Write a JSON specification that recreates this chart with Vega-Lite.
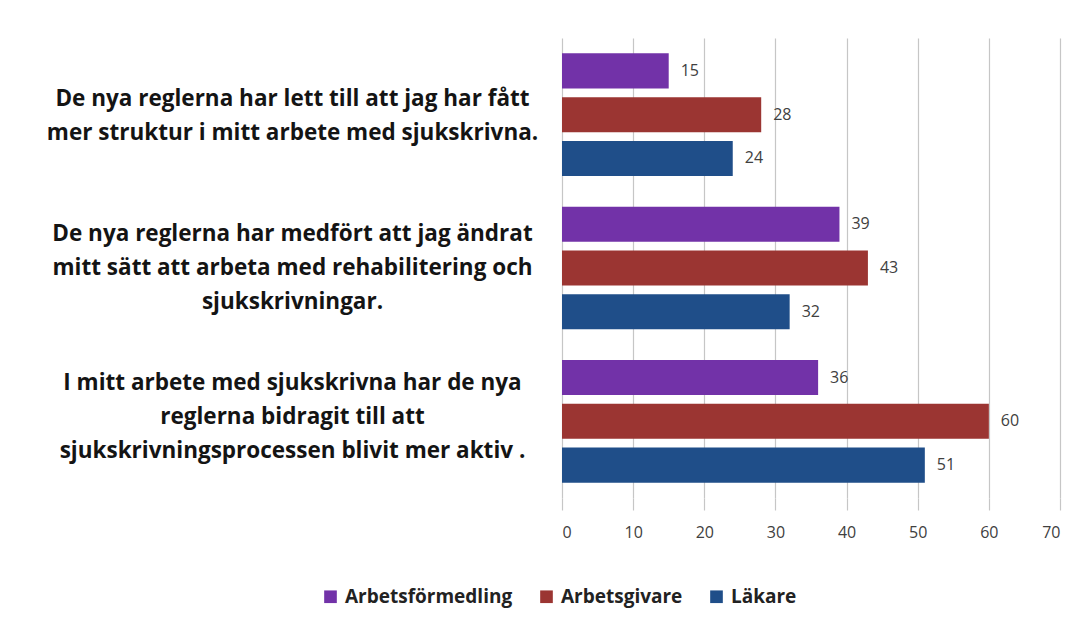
{
  "$schema": "https://vega.github.io/schema/vega-lite/v6.json",
  "width": 498,
  "height": 460,
  "autosize": {"type": "none"},
  "padding": {"left": 562, "top": 38, "right": 26, "bottom": 123},
  "background": "white",
  "config": {"view": {"stroke": null}},
  "data": {
    "values": [
      {"question": "De nya reglerna har lett till att jag har fått|mer struktur i mitt arbete med sjukskrivna.", "group": "Arbetsförmedling", "value": 15},
      {"question": "De nya reglerna har lett till att jag har fått|mer struktur i mitt arbete med sjukskrivna.", "group": "Arbetsgivare", "value": 28},
      {"question": "De nya reglerna har lett till att jag har fått|mer struktur i mitt arbete med sjukskrivna.", "group": "Läkare", "value": 24},
      {"question": "De nya reglerna har medfört att jag ändrat|mitt sätt att arbeta med rehabilitering och|sjukskrivningar.", "group": "Arbetsförmedling", "value": 39},
      {"question": "De nya reglerna har medfört att jag ändrat|mitt sätt att arbeta med rehabilitering och|sjukskrivningar.", "group": "Arbetsgivare", "value": 43},
      {"question": "De nya reglerna har medfört att jag ändrat|mitt sätt att arbeta med rehabilitering och|sjukskrivningar.", "group": "Läkare", "value": 32},
      {"question": "I mitt arbete med sjukskrivna har de nya|reglerna bidragit till att|sjukskrivningsprocessen blivit mer aktiv .", "group": "Arbetsförmedling", "value": 36},
      {"question": "I mitt arbete med sjukskrivna har de nya|reglerna bidragit till att|sjukskrivningsprocessen blivit mer aktiv .", "group": "Arbetsgivare", "value": 60},
      {"question": "I mitt arbete med sjukskrivna har de nya|reglerna bidragit till att|sjukskrivningsprocessen blivit mer aktiv .", "group": "Läkare", "value": 51}
    ]
  },
  "encoding": {
    "y": {
      "field": "question",
      "type": "nominal",
      "sort": null,
      "scale": {"paddingInner": 0.2, "paddingOuter": 0.1},
      "axis": {
        "title": null,
        "labelExpr": "split(datum.value, '|')",
        "labelAlign": "center",
        "labelBaseline": "middle",
        "labelPadding": 270,
        "labelOffset": {
          "condition": [
            {"test": "indexof(datum.value, 'lett till') >= 0", "value": -16},
            {"test": "indexof(datum.value, 'medfört') >= 0", "value": -34}
          ],
          "value": -38
        },
        "labelFont": "Open Sans",
        "labelFontSize": 22.5,
        "labelFontWeight": "bold",
        "labelColor": "#141414",
        "labelLineHeight": 34,
        "labelLimit": 0,
        "ticks": false,
        "domain": false,
        "grid": false
      }
    },
    "yOffset": {
      "field": "group",
      "type": "nominal",
      "sort": ["Arbetsförmedling", "Arbetsgivare", "Läkare"],
      "scale": {"paddingInner": 0.2, "paddingOuter": 0}
    },
    "x": {
      "field": "value",
      "type": "quantitative",
      "scale": {"domain": [0, 70], "nice": false},
      "axis": {
        "title": null,
        "values": [0, 10, 20, 30, 40, 50, 60, 70],
        "grid": true,
        "gridColor": "#c6c6c6",
        "gridWidth": 1.2,
        "domain": false,
        "ticks": true,
        "tickSize": 12,
        "tickColor": "#c6c6c6",
        "tickWidth": 1.2,
        "labelFont": "Open Sans",
        "labelFontSize": 16,
        "labelColor": "#404040",
        "labelPadding": 14
      }
    }
  },
  "layer": [
    {
      "mark": {"type": "bar"},
      "encoding": {
        "color": {
          "field": "group",
          "type": "nominal",
          "scale": {
            "domain": ["Arbetsförmedling", "Arbetsgivare", "Läkare"],
            "range": ["#7232A8", "#9B3532", "#1F4E89"]
          },
          "legend": {
            "title": null,
            "orient": "none",
            "direction": "horizontal",
            "legendX": -241,
            "legendY": 549,
            "symbolType": "square",
            "symbolSize": 160,
            "symbolStrokeWidth": 0,
            "labelFont": "Open Sans",
            "labelFontSize": 19,
            "labelFontWeight": "bold",
            "labelColor": "#222222",
            "labelOffset": 5,
            "columnPadding": 24,
            "labelLimit": 0
          }
        }
      }
    },
    {
      "mark": {"type": "text", "align": "left", "baseline": "middle", "dx": 12, "font": "Open Sans", "fontSize": 16, "color": "#404040"},
      "encoding": {
        "text": {"field": "value", "type": "quantitative"}
      }
    }
  ]
}
